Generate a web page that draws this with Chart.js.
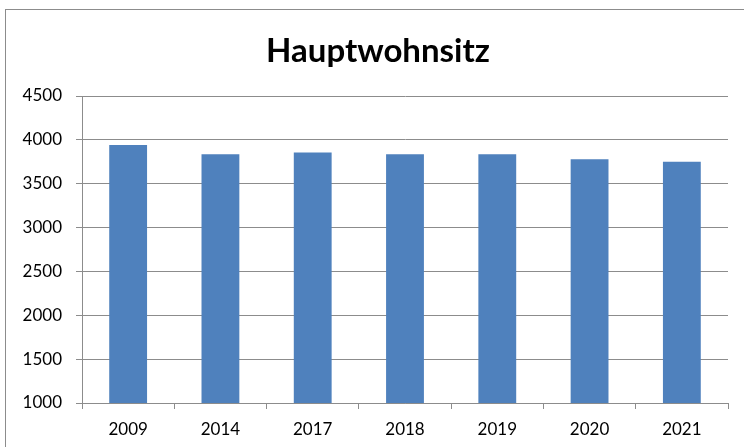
<!DOCTYPE html>
<html>
<head>
<meta charset="utf-8">
<script src="https://cdn.jsdelivr.net/npm/chart.js@4"></script>
<style>
  html, body { margin: 0; padding: 0; background: #fff; }
  #wrap { position: relative; width: 744px; height: 447px; overflow: hidden; }
  #frame { position: absolute; left: 5px; top: 9px; width: 800px; height: 460px; border: 1px solid #8c8c8c; box-sizing: border-box; }
  #title { position: absolute; left: 0; top: 33px; width: 756px; text-align: center;
           font: bold 33px/33px Lato, 'Open Sans', sans-serif; color: #000; }
  canvas { position: absolute; left: 0; top: 0; }
</style>
</head>
<body>
<div id="wrap">
  <div id="frame"></div>
  <canvas id="chart" width="744" height="447"></canvas>
  <div id="title">Hauptwohnsitz</div>
</div>
<script>
const years = ['2009', '2014', '2017', '2018', '2019', '2020', '2021'];
const residents = [3940, 3835, 3855, 3835, 3835, 3780, 3750];
const yTicks = [1000, 1500, 2000, 2500, 3000, 3500, 4000, 4500];

const font = "Lato, 'Open Sans', sans-serif";
const gridColor = '#8c8c8c';

new Chart(document.getElementById('chart'), {
    type: 'bar',
    data: {
        labels: years,
        datasets: [{
            label: 'Hauptwohnsitz',
            data: residents,
            backgroundColor: '#4f81bd',
            borderWidth: 0,
            barPercentage: 0.82,
            categoryPercentage: 0.5
        }]
    },
    options: {
        responsive: false,
        animation: false,
        // title is the html div above, so leave room for it here
        layout: { padding: { left: 0, right: 16, top: 96, bottom: 0 } },
        plugins: {
            legend: { display: false },
            tooltip: { enabled: false },
            title: { display: false }
        },
        scales: {
            x: {
                offset: true,
                grid: { display: true, drawOnChartArea: false, offset: true, color: gridColor, tickLength: 6 },
                border: { color: gridColor },
                ticks: { color: '#000', font: { family: font, size: 17 }, padding: 10, maxRotation: 0 },
                afterFit: function (scale) { scale.height = 44; }
            },
            y: {
                min: 1000,
                max: 4500,
                afterBuildTicks: function (scale) { scale.ticks = yTicks.map(v => ({ value: v })); },
                grid: { color: gridColor, tickLength: 6 },
                border: { color: gridColor },
                ticks: {
                    color: '#000',
                    font: { family: font, size: 17 },
                    padding: 14,
                    callback: function (value) { return String(value); }
                },
                afterFit: function (scale) { scale.width = 82; }
            }
        }
    }
});
</script>
</body>
</html>
